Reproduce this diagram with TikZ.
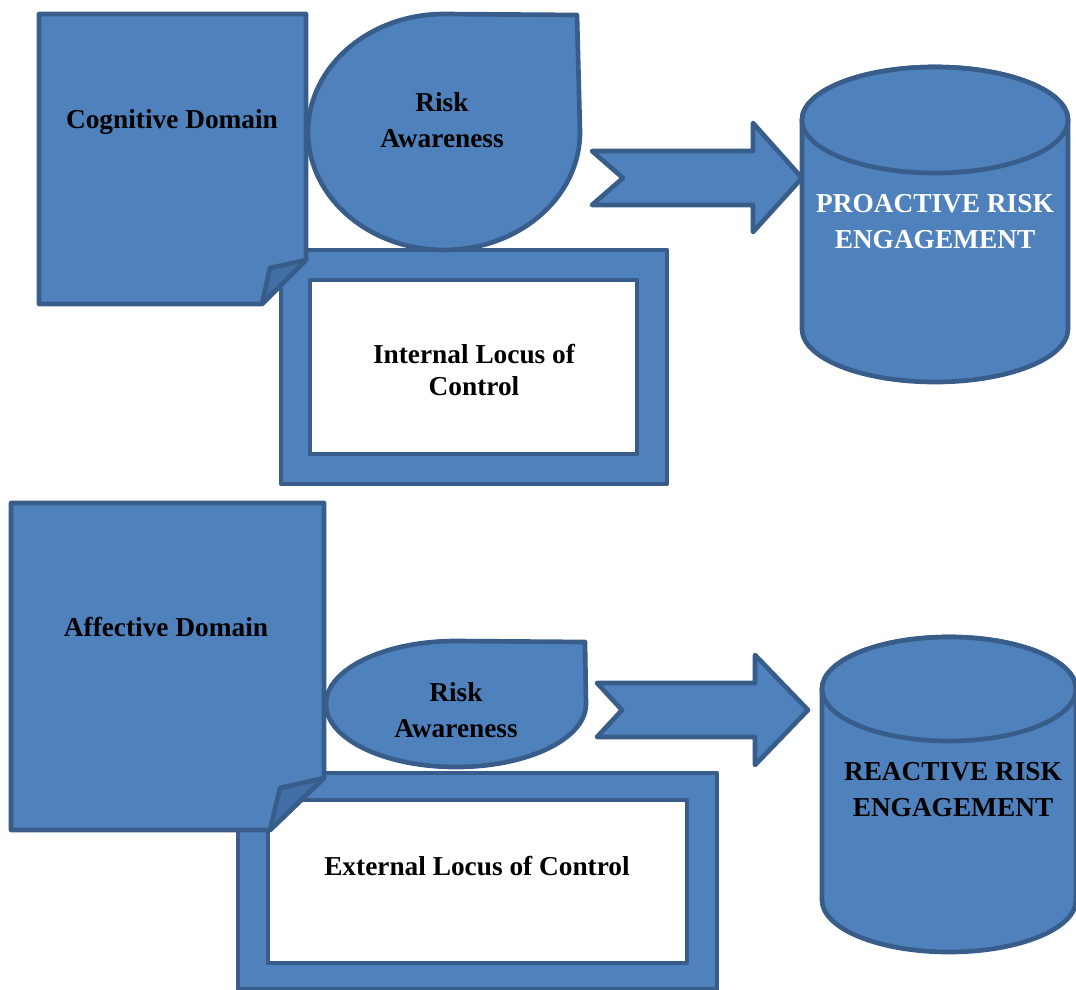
\documentclass[tikz,border=0pt]{standalone}
\usepackage{fontspec}
\setmainfont{Liberation Serif}
\definecolor{shapeblue}{RGB}{79,129,189}
\definecolor{edgeblue}{RGB}{56,93,138}
\definecolor{foldblue}{RGB}{66,110,166}
\def \lineW {3.5pt}
\tikzset{
  blueshape/.style={draw=edgeblue, fill=shapeblue, line width=\lineW, line join=round},
  label/.style={font=\fontsize{20.5}{27}\selectfont\bfseries, align=center, inner sep=0pt},
}

\begin{document}
\begin{tikzpicture}[x=0.75pt, y=-0.75pt]
            \useasboundingbox (0,0) rectangle (1076,990);
            % proactive row
            \draw[blueshape] (281,250) rectangle (667,484);
            \draw[blueshape, fill=white] (310,280) rectangle (637,454);
            \draw[blueshape] (444,14) -- (577,15) -- (580,132)
                arc[start angle=0, end angle=180, x radius=136, y radius=118]
                arc[start angle=180, end angle=270, x radius=136, y radius=118] -- cycle;
            \draw[blueshape] (39,14) -- (306,14) -- (306,260) -- (262,304) -- (39,304) -- cycle;
            \draw[blueshape, fill=foldblue] (306,260) -- (270,268) -- (262,304) -- cycle;
            \draw[blueshape] (592,151) -- (753,151) -- (753,123) -- (802,178) -- (753,232) -- (753,205) -- (592,205) -- (623,178) -- cycle;
            \draw[blueshape] (802,120) -- (802,329)
                arc[start angle=180, end angle=0, x radius=133, y radius=53] -- (1068,120)
                arc[start angle=0, end angle=-180, x radius=133, y radius=53] -- cycle;
            \draw[blueshape] (935,120) ellipse [x radius=133, y radius=53];
            \node[label] (cognitive) at (172,122) {Cognitive Domain};
            \node[label] (awareTop) at (442,120) {Risk\\Awareness};
            \node[label, font=\fontsize{20.5}{23.5}\selectfont\bfseries] (internal) at (474,370) {Internal Locus of\\Control};
            \node[label, text=white] (proactive) at (935,222) {PROACTIVE RISK\\ENGAGEMENT};
            % reactive row
            \draw[blueshape] (238,773) rectangle (717,989);
            \draw[blueshape, fill=white] (268,800) rectangle (687,963);
            \draw[blueshape] (456,641) -- (585,642) -- (586,704)
                arc[start angle=0, end angle=180, x radius=130, y radius=63]
                arc[start angle=180, end angle=270, x radius=130, y radius=63] -- cycle;
            \draw[blueshape] (11,503) -- (324,503) -- (324,778) -- (270,830) -- (11,830) -- cycle;
            \draw[blueshape, fill=foldblue] (324,778) -- (280,788) -- (270,830) -- cycle;
            \draw[blueshape] (597,683) -- (755,683) -- (755,655) -- (808,710) -- (755,765) -- (755,737) -- (597,737) -- (622,710) -- cycle;
            \draw[blueshape] (822,689) -- (822,900)
                arc[start angle=180, end angle=0, x radius=127, y radius=52] -- (1076,689)
                arc[start angle=0, end angle=-180, x radius=127, y radius=52] -- cycle;
            \draw[blueshape] (949,689) ellipse [x radius=127, y radius=52];
            \node[label] (affective) at (166,627) {Affective Domain};
            \node[label] (awareLow) at (456,710) {Risk\\Awareness};
            \node[label] (external) at (477,866) {External Locus of Control};
            \node[label] (reactive) at (953,790) {REACTIVE RISK\\ENGAGEMENT};
         \end{tikzpicture}
\end{document}
